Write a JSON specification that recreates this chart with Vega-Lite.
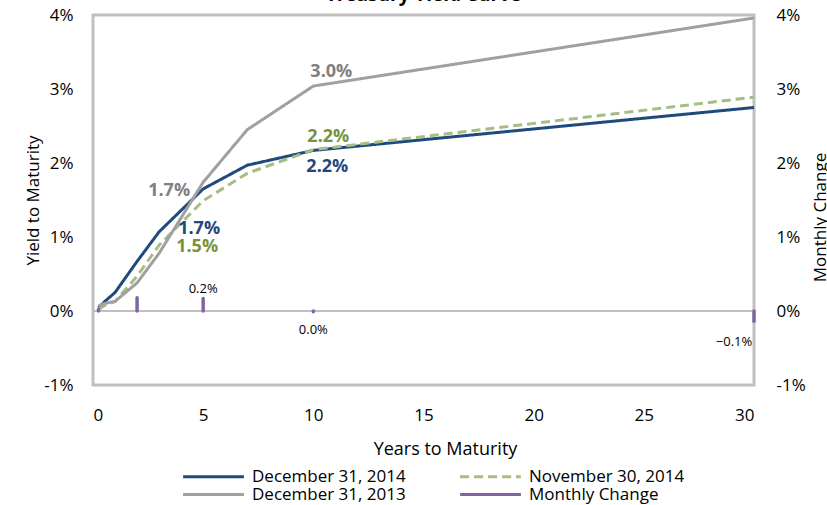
{
  "$schema": "https://vega.github.io/schema/vega-lite/v6.json",
  "autosize": "none",
  "width": 661,
  "height": 370,
  "padding": {"left": 93, "top": 15, "right": 73, "bottom": 120},
  "title": {
    "text": "Treasury Yield Curve",
    "fontSize": 19,
    "fontWeight": "bold",
    "font": "Open Sans",
    "color": "#000000",
    "anchor": "middle",
    "baseline": "alphabetic",
    "offset": -13.5
  },
  "datasets": {
    "yields": [
      {"series": "December 31, 2014", "maturity": 0.25, "yield": 0.0004},
      {"series": "December 31, 2014", "maturity": 0.5, "yield": 0.0012},
      {"series": "December 31, 2014", "maturity": 1, "yield": 0.0025},
      {"series": "December 31, 2014", "maturity": 2, "yield": 0.0067},
      {"series": "December 31, 2014", "maturity": 3, "yield": 0.0107},
      {"series": "December 31, 2014", "maturity": 5, "yield": 0.0165},
      {"series": "December 31, 2014", "maturity": 7, "yield": 0.0197},
      {"series": "December 31, 2014", "maturity": 10, "yield": 0.0217},
      {"series": "December 31, 2014", "maturity": 30, "yield": 0.0275},
      {"series": "November 30, 2014", "maturity": 0.25, "yield": 0.0002},
      {"series": "November 30, 2014", "maturity": 0.5, "yield": 0.0007},
      {"series": "November 30, 2014", "maturity": 1, "yield": 0.0013},
      {"series": "November 30, 2014", "maturity": 2, "yield": 0.0047},
      {"series": "November 30, 2014", "maturity": 3, "yield": 0.0089},
      {"series": "November 30, 2014", "maturity": 5, "yield": 0.0149},
      {"series": "November 30, 2014", "maturity": 7, "yield": 0.0186},
      {"series": "November 30, 2014", "maturity": 10, "yield": 0.0218},
      {"series": "November 30, 2014", "maturity": 30, "yield": 0.0289},
      {"series": "December 31, 2013", "maturity": 0.25, "yield": 0.0007},
      {"series": "December 31, 2013", "maturity": 0.5, "yield": 0.001},
      {"series": "December 31, 2013", "maturity": 1, "yield": 0.0013},
      {"series": "December 31, 2013", "maturity": 2, "yield": 0.0038},
      {"series": "December 31, 2013", "maturity": 3, "yield": 0.0078},
      {"series": "December 31, 2013", "maturity": 5, "yield": 0.0174},
      {"series": "December 31, 2013", "maturity": 7, "yield": 0.0245},
      {"series": "December 31, 2013", "maturity": 10, "yield": 0.0304},
      {"series": "December 31, 2013", "maturity": 30, "yield": 0.0396}
    ],
    "change": [
      {"series": "Monthly Change", "maturity": 0.25, "change": 0.0002},
      {"series": "Monthly Change", "maturity": 2, "change": 0.0018},
      {"series": "Monthly Change", "maturity": 5, "change": 0.0017},
      {"series": "Monthly Change", "maturity": 10, "change": -0.0001},
      {"series": "Monthly Change", "maturity": 30, "change": -0.0014}
    ]
  },
  "layer": [
    {
      "data": {"name": "yields"},
      "layer": [
        {
          "mark": {"type": "rule", "color": "#BFBFBF", "strokeWidth": 1.5},
          "encoding": {
            "y": {"datum": 0, "type": "quantitative", "scale": {"domain": [-0.01, 0.04]}}
          }
        },
        {
          "mark": {"type": "line", "strokeWidth": 3},
          "encoding": {
            "x": {
              "field": "maturity",
              "type": "quantitative",
              "scale": {"domain": [0, 30], "nice": false},
              "axis": {
                "title": "Years to Maturity",
                "values": [0, 5, 10, 15, 20, 25, 30],
                "titleX": 352,
                "labelPadding": 22,
                "titlePadding": 17,
                "titleFontSize": 18
              }
            },
            "y": {
              "field": "yield",
              "type": "quantitative",
              "scale": {"domain": [-0.01, 0.04], "nice": false},
              "axis": {
                "title": "Yield to Maturity",
                "values": [-0.01, 0, 0.01, 0.02, 0.03, 0.04],
                "format": ".0%",
                "labelExpr": "replace(datum.label, '−', '-')",
                "labelPadding": 20,
                "titlePadding": 1
              }
            },
            "color": {
              "field": "series",
              "type": "nominal",
              "scale": {
                "domain": ["December 31, 2014", "November 30, 2014", "December 31, 2013", "Monthly Change"],
                "range": ["#1F4A7E", "#A6BD84", "#A0A0A0", "#8064A2"]
              },
              "legend": {
                "title": null,
                "orient": "none",
                "direction": "horizontal",
                "legendX": 111,
                "legendY": 452,
                "columns": 2,
                "columnPadding": 48,
                "rowPadding": -3
              }
            },
            "strokeDash": {
              "field": "series",
              "type": "nominal",
              "scale": {
                "domain": ["December 31, 2014", "November 30, 2014", "December 31, 2013", "Monthly Change"],
                "range": [[1, 0], [9, 5], [1, 0], [1, 0]]
              },
              "legend": {
                "title": null,
                "orient": "none",
                "direction": "horizontal",
                "legendX": 111,
                "legendY": 452,
                "columns": 2,
                "columnPadding": 48,
                "rowPadding": -3
              }
            }
          }
        },
        {
          "transform": [{"filter": "datum.series == 'December 31, 2013' && datum.maturity == 10"}],
          "mark": {"type": "text", "fontWeight": "bold", "fontSize": 18, "color": "#808080", "dx": 18, "dy": -14},
          "encoding": {
            "x": {"field": "maturity", "type": "quantitative"},
            "y": {"field": "yield", "type": "quantitative"},
            "text": {"field": "yield", "type": "quantitative", "format": ".1%"}
          }
        },
        {
          "transform": [{"filter": "datum.series == 'December 31, 2013' && datum.maturity == 5"}],
          "mark": {"type": "text", "fontWeight": "bold", "fontSize": 18, "color": "#808080", "dx": -34, "dy": 9},
          "encoding": {
            "x": {"field": "maturity", "type": "quantitative"},
            "y": {"field": "yield", "type": "quantitative"},
            "text": {"field": "yield", "type": "quantitative", "format": ".1%"}
          }
        },
        {
          "transform": [{"filter": "datum.series == 'November 30, 2014' && datum.maturity == 10"}],
          "mark": {"type": "text", "fontWeight": "bold", "fontSize": 18, "color": "#77933C", "dx": 15, "dy": -13},
          "encoding": {
            "x": {"field": "maturity", "type": "quantitative"},
            "y": {"field": "yield", "type": "quantitative"},
            "text": {"field": "yield", "type": "quantitative", "format": ".1%"}
          }
        },
        {
          "transform": [{"filter": "datum.series == 'November 30, 2014' && datum.maturity == 5"}],
          "mark": {"type": "text", "fontWeight": "bold", "fontSize": 18, "color": "#77933C", "dx": -6, "dy": 46},
          "encoding": {
            "x": {"field": "maturity", "type": "quantitative"},
            "y": {"field": "yield", "type": "quantitative"},
            "text": {"field": "yield", "type": "quantitative", "format": ".1%"}
          }
        },
        {
          "transform": [{"filter": "datum.series == 'December 31, 2014' && datum.maturity == 10"}],
          "mark": {"type": "text", "fontWeight": "bold", "fontSize": 18, "color": "#1F497D", "dx": 14, "dy": 17},
          "encoding": {
            "x": {"field": "maturity", "type": "quantitative"},
            "y": {"field": "yield", "type": "quantitative"},
            "text": {"field": "yield", "type": "quantitative", "format": ".1%"}
          }
        },
        {
          "transform": [{"filter": "datum.series == 'December 31, 2014' && datum.maturity == 5"}],
          "mark": {"type": "text", "fontWeight": "bold", "fontSize": 18, "color": "#1F497D", "dx": -4, "dy": 40},
          "encoding": {
            "x": {"field": "maturity", "type": "quantitative"},
            "y": {"field": "yield", "type": "quantitative"},
            "text": {"field": "yield", "type": "quantitative", "format": ".1%"}
          }
        }
      ]
    },
    {
      "data": {"name": "change"},
      "layer": [
        {
          "mark": {"type": "rule", "strokeWidth": 3.5, "strokeCap": "round"},
          "encoding": {
            "x": {"field": "maturity", "type": "quantitative"},
            "y": {
              "field": "change",
              "type": "quantitative",
              "scale": {"domain": [-0.01, 0.04], "nice": false},
              "axis": {
                "orient": "right",
                "title": "Monthly Change",
                "values": [-0.01, 0, 0.01, 0.02, 0.03, 0.04],
                "format": ".0%",
                "labelExpr": "replace(datum.label, '−', '-')",
                "labelPadding": 22,
                "titlePadding": 24,
                "titleAngle": 270,
                "titleY": 202
              }
            },
            "y2": {"datum": 0},
            "color": {"field": "series", "type": "nominal"}
          }
        },
        {
          "transform": [{"filter": "datum.maturity == 5"}],
          "mark": {"type": "text", "fontSize": 13, "color": "#000000", "dy": -9},
          "encoding": {
            "x": {"field": "maturity", "type": "quantitative"},
            "y": {"field": "change", "type": "quantitative"},
            "text": {"field": "change", "type": "quantitative", "format": ".1%"}
          }
        },
        {
          "transform": [{"filter": "datum.maturity == 10"}],
          "mark": {"type": "text", "fontSize": 13, "color": "#000000", "dy": 18},
          "encoding": {
            "x": {"field": "maturity", "type": "quantitative"},
            "y": {"field": "change", "type": "quantitative"},
            "text": {"field": "change", "type": "quantitative", "format": ".1%"}
          }
        },
        {
          "transform": [{"filter": "datum.maturity == 30"}],
          "mark": {"type": "text", "fontSize": 13, "color": "#000000", "dx": -20, "dy": 21},
          "encoding": {
            "x": {"field": "maturity", "type": "quantitative"},
            "y": {"field": "change", "type": "quantitative"},
            "text": {"field": "change", "type": "quantitative", "format": ".1%"}
          }
        }
      ]
    }
  ],
  "resolve": {"scale": {"y": "independent"}},
  "config": {
    "font": "Open Sans",
    "view": {"stroke": "#BFBFBF", "strokeWidth": 3},
    "axis": {
      "grid": false,
      "domain": false,
      "ticks": false,
      "labelFont": "Open Sans",
      "labelFontSize": 17,
      "labelColor": "#000000",
      "titleFont": "Open Sans",
      "titleFontSize": 17,
      "titleFontWeight": "normal",
      "titleColor": "#000000"
    },
    "legend": {
      "labelFont": "Open Sans",
      "labelFontSize": 17,
      "labelColor": "#000000",
      "symbolType": "M-3.8,0H3.8",
      "symbolSize": 256,
      "symbolStrokeWidth": 3,
      "labelOffset": 29
    },
    "text": {"font": "Open Sans"}
  }
}
